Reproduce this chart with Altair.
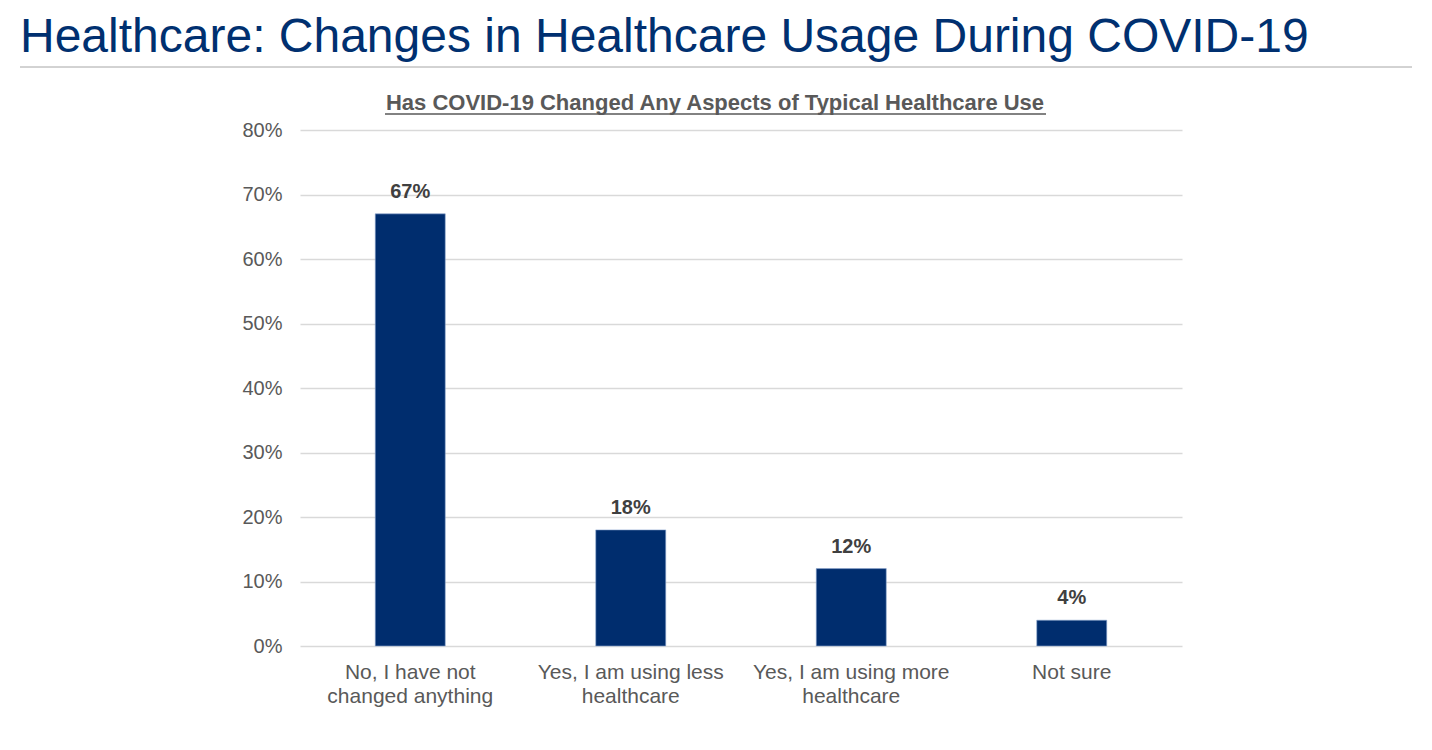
import altair as alt
import pandas as pd

categories = ["No, I have not|changed anything", "Yes, I am using less|healthcare",
              "Yes, I am using more|healthcare", "Not sure"]
values = [0.67, 0.18, 0.12, 0.04]
labels = ["67%", "18%", "12%", "4%"]

title_text = "Healthcare: Changes in Healthcare Usage During COVID-19"
subtitle_text = "Has COVID-19 Changed Any Aspects of Typical Healthcare Use"

df = pd.DataFrame({"cat": categories, "val": values, "lab": labels})

FONT = "Liberation Sans"
NAVY = "#002D6E"
GREY = "#595959"

x_enc = alt.X("cat:N", sort=categories, title=None,
              scale=alt.Scale(paddingInner=0, paddingOuter=0),
              axis=alt.Axis(labelAngle=0, labelExpr="split(datum.label, '|')",
                            labelFont=FONT, labelFontSize=21, labelColor=GREY,
                            labelLineHeight=24, labelPadding=15, ticks=False,
                            domain=False, grid=False, labelBaseline="top",
                            labelLimit=0))
y_enc = alt.Y("val:Q", title=None,
              scale=alt.Scale(domain=[0, 0.8]),
              axis=alt.Axis(format=".0%", values=[0, .1, .2, .3, .4, .5, .6, .7, .8],
                            labelFont=FONT, labelFontSize=20, labelColor=GREY,
                            labelPadding=18, ticks=False, domain=False,
                            grid=True, gridColor="#D9D9D9", gridWidth=1.5))

bars = alt.Chart(df).mark_bar(size=70, color=NAVY, stroke="#8FA8D0", strokeWidth=0.6).encode(
    x=x_enc, y=y_enc)

texts = alt.Chart(df).mark_text(font=FONT, fontSize=20, fontWeight="bold", color="#404040",
                                baseline="alphabetic", dy=-16).encode(
    x=alt.X("cat:N", sort=categories), y="val:Q", text="lab:N")

title_df = pd.DataFrame({"t": [title_text]})
title = alt.Chart(title_df).mark_text(font=FONT, fontSize=48, color="#003070",
                                      align="left", baseline="alphabetic").encode(
    x=alt.value(-280), y=alt.value(-78), text="t:N")

sub_df = pd.DataFrame({"t": [subtitle_text]})
subtitle = alt.Chart(sub_df).mark_text(font=FONT, fontSize=22, fontWeight="bold", color=GREY,
                                       align="center", baseline="alphabetic").encode(
    x=alt.value(415), y=alt.value(-20), text="t:N")

underline = alt.Chart(sub_df).mark_rule(color=GREY, strokeWidth=1.5).encode(
    x=alt.value(85), x2=alt.value(746), y=alt.value(-16))

title_rule = alt.Chart(sub_df).mark_rule(color="#A6A6A6", strokeWidth=1).encode(
    x=alt.value(-280), x2=alt.value(1112), y=alt.value(-63))

chart = alt.layer(bars, texts, title, subtitle, underline, title_rule).properties(
    width=882, height=516,
    background="white",
    autosize=alt.AutoSizeParams(type="none"),
    padding={"left": 292, "top": 122, "right": 242, "bottom": 90},
).configure_view(strokeWidth=0, stroke="transparent")

chart.save("out.html", embed_options={"renderer": "svg", "actions": False})
